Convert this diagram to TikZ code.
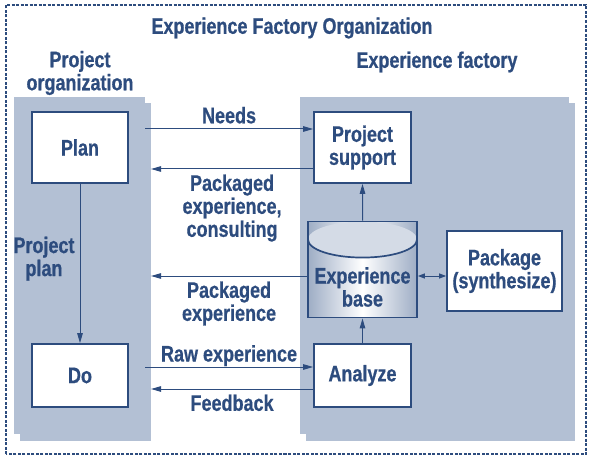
\documentclass[tikz,border=0pt]{standalone}
\usepackage{fontspec}
\setmainfont{Liberation Sans}[FakeStretch=0.8,BoldFeatures={FakeBold=0.6}]
\usetikzlibrary{shapes.geometric,arrows.meta}
\definecolor{efblue}{HTML}{2D4C7E}
\definecolor{efgray}{HTML}{B3C0D4}
\definecolor{eftop}{HTML}{D4DBE6}
\definecolor{efside}{HTML}{9EADC5}
\begin{document}
\begin{tikzpicture}[x=1pt,y=1pt,font=\fontsize{22.5}{23}\selectfont\bfseries,text=efblue]
  \tikzstyle{box}=[draw=efblue,line width=1.7pt,fill=white,align=center,inner sep=0pt]
  \tikzstyle{panel}=[fill=efgray]
  \tikzstyle{flow}=[draw=efblue,line width=1pt,-{Triangle[length=10pt,width=5.5pt]}]
  \tikzstyle{dflow}=[draw=efblue,line width=1pt,{Triangle[length=7pt,width=5pt]}-{Triangle[length=7pt,width=5pt]}]
  \tikzstyle{tag}=[align=center,inner sep=5pt]
  \useasboundingbox (0,0) rectangle (590,459);
  \draw[efblue,line width=1.3pt,dash pattern=on 3pt off 1.5pt] (6,5) rectangle (586,454);
  \node (title) at (292,431) {Experience Factory Organization};
  \node[align=center] (orgtitle) at (80,386) {Project\\organization};
  \node (factitle) at (437,397) {Experience factory};
  % panels
  \fill[panel] (20,18) rectangle (151,356);
  \fill[panel] (14,25) rectangle (145,362);
  \fill[panel] (306,18) rectangle (575,356);
  \fill[panel] (300,25) rectangle (569,362);
  % boxes
  \node[box,minimum width=96,minimum height=71] (plan) at (80,311.5) {Plan};
  \node[box,minimum width=96,minimum height=63] (do) at (80,83.5) {Do};
  \node[box,minimum width=97,minimum height=71] (ps) at (362.5,311.5) {Project\\support};
  \node[box,minimum width=97,minimum height=63] (an) at (362.5,83.5) {Analyze};
  \node[box,minimum width=115,minimum height=80] (pack) at (504.5,188) {Package\\(synthesize)};
  \node[draw=efblue,line width=1.7pt,cylinder,shape border rotate=90,aspect=0.66,
        minimum width=109,minimum height=96,inner sep=0pt,
        left color=efside,right color=efside,middle color=white,
        path picture={\fill[eftop] ([yshift=-18pt]path picture bounding box.north) ellipse (54.5 and 18);
          \draw[efblue,line width=1.7pt] ([xshift=-54.5pt,yshift=-18pt]path picture bounding box.north) arc (180:360:54.5 and 18);},
        label={[align=center,yshift=-17pt]center:{Experience\\base}}] (base) at (362.5,189) {};
  % connectors
  \coordinate (needs) at (145,330);
  \coordinate (pec) at (151,290);
  \coordinate (pe) at (151,183);
  \coordinate (raw) at (145,92);
  \coordinate (fb) at (151,70);
  \draw[flow] (needs) -- node[tag,above] {Needs} (needs -| ps.west);
  \draw[flow] (pec -| ps.west) -- node[tag,below] {Packaged\\experience,\\consulting} (pec);
  \draw[flow] (pe -| base.west) -- node[tag,below] {Packaged\\experience} (pe);
  \draw[flow] (raw) -- node[tag,above,text depth=0pt] {Raw experience} (raw -| an.west);
  \draw[flow] (fb -| an.west) -- node[tag,below] {Feedback} (fb);
  \draw[flow] (plan) -- node[tag,left,pos=0.47] {Project\\plan} (do);
  \draw[flow] (base) -- (ps);
  \draw[flow] (an) -- (base);
  \draw[dflow] (pe -| base.east) -- (pe -| pack.west);
\end{tikzpicture}
\end{document}
